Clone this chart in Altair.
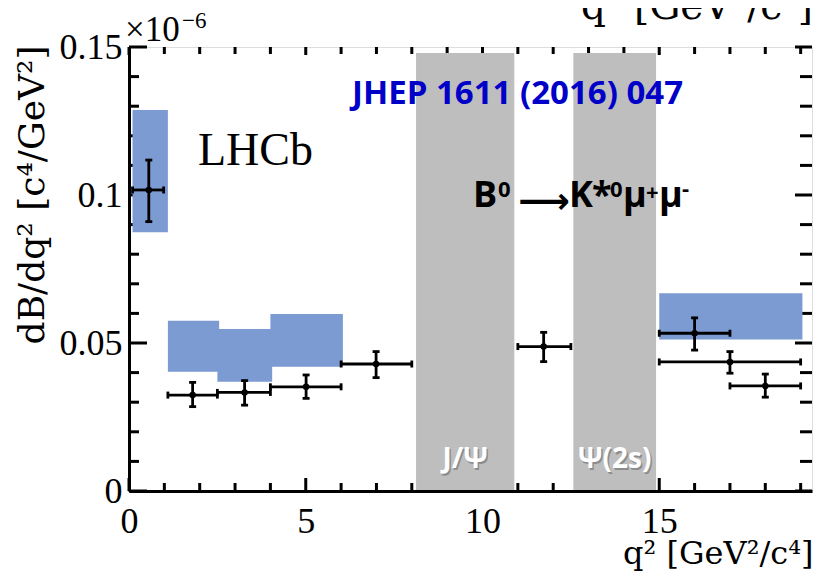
import altair as alt
import pandas as pd

# ---- measured points (dB/dq2, units of 1e-6 GeV^-2 c^4) ----
bin_lo = [0.1, 1.1, 2.5, 4.0, 6.0, 11.0, 15.0, 17.0, 15.0]
bin_hi = [0.98, 2.5, 4.0, 6.0, 8.0, 12.5, 17.0, 19.0, 19.0]
q2_mid = [0.56, 1.80, 3.27, 5.01, 6.99, 11.73, 16.0, 18.0, 17.0]
dbdq2 = [0.1017, 0.0324, 0.0333, 0.0352, 0.0429, 0.0488, 0.0533, 0.0355, 0.0436]
err_lo = [0.0910, 0.0285, 0.0290, 0.0313, 0.0383, 0.0437, 0.0476, 0.0317, 0.0398]
err_hi = [0.1118, 0.0367, 0.0373, 0.0392, 0.0471, 0.0536, 0.0585, 0.0395, 0.0471]

# ---- theory bands ----
th_lo = [0.1, 1.1, 2.5, 4.0, 15.0]
th_hi = [1.1, 2.55, 4.05, 6.05, 19.05]
th_min = [0.0874, 0.0403, 0.0369, 0.0420, 0.0512]
th_max = [0.1287, 0.0575, 0.0547, 0.0598, 0.0668]

# ---- charmonium vetoes ----
veto_lo = [8.12, 12.57]
veto_hi = [10.90, 14.91]
veto_top = [0.148, 0.148]
veto_label = ["J/Ψ", "Ψ(2s)"]

# ---- axis ticks ----
x_major = [0, 5, 10, 15]
x_minor = [1, 2, 3, 4, 6, 7, 8, 9, 11, 12, 13, 14, 16, 17, 18, 19]
y_major = [0, 0.05, 0.10, 0.15]
y_minor = [0.01, 0.02, 0.03, 0.04, 0.06, 0.07, 0.08, 0.09, 0.11, 0.12, 0.13, 0.14]

W, H = 683, 444
BLUE = "#7b9bd2"
GRAY = "#bebebe"

pts = pd.DataFrame({"lo": bin_lo, "hi": bin_hi, "mid": q2_mid, "y": dbdq2,
                    "elo": err_lo, "ehi": err_hi})
th = pd.DataFrame({"lo": th_lo, "hi": th_hi, "ymin": th_min, "ymax": th_max})
veto = pd.DataFrame({"lo": veto_lo, "hi": veto_hi, "top": veto_top, "label": veto_label})
veto["mid"] = (veto["lo"] + veto["hi"]) / 2
veto["bot"] = 0.0

xs = alt.Scale(domain=[0, W / 35.35], nice=False, zero=False)
ys = alt.Scale(domain=[0, 0.15], nice=False, zero=False)

xaxis = alt.Axis(values=x_major, title="q² [GeV²/c⁴]",
                 labelExpr="format(datum.value, '~g')",
                 labelFont="Liberation Serif", labelFontSize=36, labelColor="black",
                 labelPadding=13, labelFlush=False, labelOverlap=False, labelBound=False,
                 domain=True, domainColor="black", domainWidth=3, zindex=1,
                 ticks=False, tickSize=0, grid=False,
                 titleFont="DejaVu Serif", titleFontSize=32, titleFontWeight="normal",
                 titleColor="black", titleX=W + 1, titleY=72, titleAlign="right",
                 titleBaseline="alphabetic")
yaxis = alt.Axis(values=y_major, title="dB/dq² [c⁴/GeV²]",
                 labelExpr="format(datum.value, '.2~f')",
                 labelFont="Liberation Serif", labelFontSize=36, labelColor="black",
                 labelPadding=7, labelFlush=False, labelOverlap=False, labelBound=False,
                 domain=True, domainColor="black", domainWidth=3, zindex=1,
                 ticks=False, tickSize=0, grid=False,
                 titleFont="DejaVu Serif", titleFontSize=36, titleFontWeight="normal",
                 titleColor="black", titleAngle=270, titleX=-86, titleY=-2,
                 titleAlign="right", titleBaseline="alphabetic")


def X(f):
    return alt.X(f, type="quantitative", scale=xs, axis=xaxis)


def Y(f):
    return alt.Y(f, type="quantitative", scale=ys, axis=yaxis)


def tick_layer(vals, side, length):
    df = pd.DataFrame({"v": vals})
    base = alt.Chart(df).mark_rule(color="black", strokeWidth=3)
    if side == "bottom":
        return base.encode(x=X("v"), y=alt.value(H), y2=alt.value(H - length))
    if side == "top":
        return base.encode(x=X("v"), y=alt.value(0), y2=alt.value(length))
    if side == "left":
        return base.encode(y=Y("v"), x=alt.value(0), x2=alt.value(length))
    return base.encode(y=Y("v"), x=alt.value(W - length), x2=alt.value(W))


ticks = [
    tick_layer(x_major, "bottom", 13), tick_layer(x_minor, "bottom", 8),
    tick_layer(x_major, "top", 8), tick_layer(x_minor, "top", 7),
    tick_layer(y_major, "left", 18), tick_layer(y_minor, "left", 10),
    tick_layer(y_major, "right", 17), tick_layer(y_minor, "right", 12),
]

theory = alt.Chart(th).mark_rect(color=BLUE).encode(
    x=X("lo"), x2="hi", y=Y("ymin"), y2="ymax")

vetoes = alt.Chart(veto).mark_rect(color=GRAY).encode(
    x=X("lo"), x2="hi", y=Y("bot"), y2="top")

veto_shadow = alt.Chart(veto).mark_text(
    font="Open Sans", fontSize=28, fontWeight="bold", color="#8c8c8c",
    align="center", baseline="alphabetic", dx=1.5, dy=1.5).encode(
    x=X("mid"), y=alt.value(H - 23), text="label")
veto_text = alt.Chart(veto).mark_text(
    font="Open Sans", fontSize=28, fontWeight="bold", color="white",
    align="center", baseline="alphabetic").encode(
    x=X("mid"), y=alt.value(H - 23), text="label")

base = alt.Chart(pts)
LW = 2.8
hbar = base.mark_rule(color="black", strokeWidth=LW).encode(x=X("lo"), x2="hi", y=Y("y"))
vbar = base.mark_rule(color="black", strokeWidth=LW).encode(x=X("mid"), y=Y("elo"), y2="ehi")
cap_top = base.mark_tick(orient="horizontal", color="black", size=7, thickness=LW,
                         opacity=1).encode(x=X("mid"), y=Y("ehi"))
cap_bot = base.mark_tick(orient="horizontal", color="black", size=7, thickness=LW,
                         opacity=1).encode(x=X("mid"), y=Y("elo"))
cap_l = base.mark_tick(orient="vertical", color="black", size=7, thickness=LW,
                       opacity=1).encode(x=X("lo"), y=Y("y"))
cap_r = base.mark_tick(orient="vertical", color="black", size=7, thickness=LW,
                       opacity=1).encode(x=X("hi"), y=Y("y"))
dots = base.mark_circle(color="black", size=42, opacity=1).encode(x=X("mid"), y=Y("y"))


def note(text, x, y, size, font, weight="normal", color="black", align="left",
         baseline="alphabetic"):
    return alt.Chart(alt.Data(values=[{}])).mark_text(
        text=text, font=font, fontSize=size, fontWeight=weight, color=color,
        align=align, baseline=baseline).encode(x=alt.value(x), y=alt.value(y))


SANS = "Open Sans"
BIG, SUP = 36, 22
notes = [
    note("LHCb", 69, 118, 46, "Liberation Serif"),
    note("JHEP 1611 (2016) 047", 223, 56.5, 33, SANS, "bold", "#0000c8"),
    note("B", 344, 160, BIG, SANS, "bold"),
    note("0", 369, 150, SUP, SANS, "bold"),
    note("⟶", 415, 155, 36, "DejaVu Sans", "bold", align="center", baseline="middle"),
    note("K", 440, 160, BIG, SANS, "bold"),
    note("*", 463, 160, BIG, SANS, "bold"),
    note("0", 481, 150, SUP, SANS, "bold"),
    note("μ", 494, 160, BIG, SANS, "bold"),
    note("+", 517, 153, SUP, SANS, "bold"),
    note("μ", 530, 160, BIG, SANS, "bold"),
    note("-", 553, 149, SUP, SANS, "bold"),
    note("×10", -4, -6, 35, "Liberation Serif"),
    note("−6", 53, -19, 23, "Liberation Serif"),
    note("q² [GeV²/c⁴]", W + 1, -28, 39, "DejaVu Serif", align="right"),
]

layers = ticks + [theory, vetoes, veto_shadow, veto_text,
                  hbar, vbar, cap_top, cap_bot, cap_l, cap_r, dots] + notes

chart = alt.layer(*layers).properties(
    width=W, height=H,
    autosize=alt.AutoSizeParams(type="none"),
    padding={"left": 121, "top": 39, "right": 1, "bottom": 81},
).configure_view(stroke="black", strokeWidth=3).configure(background="white")

chart.save("out.html", embed_options={"renderer": "svg", "actions": False})
